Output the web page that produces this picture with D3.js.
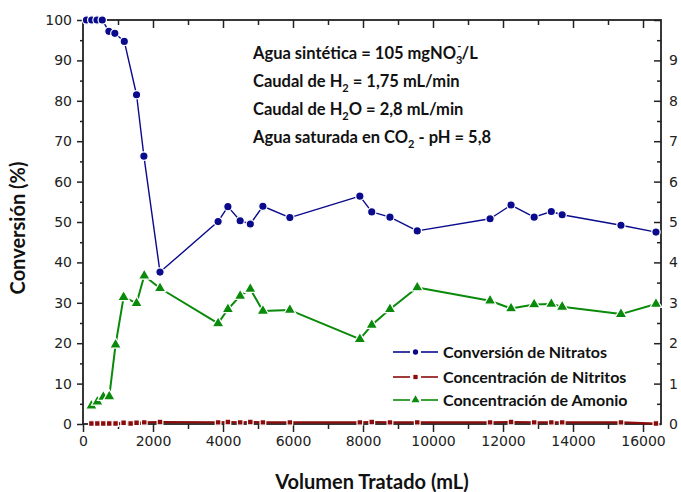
<!DOCTYPE html>
<html>
<head>
<meta charset="utf-8">
<script src="https://cdn.jsdelivr.net/npm/d3@7"></script>
<style>
  body { margin: 0; background: #fff; }
  svg { display: block; }
  .tick text { font-family: "DejaVu Sans", sans-serif; font-size: 14px; fill: #222; }
  .bold { font-family: Lato, "Open Sans", sans-serif; font-weight: bold; fill: #111; }
</style>
</head>
<body>
<svg id="chart" width="681" height="492"></svg>
<script>
// volumen tratado (mL) y valores
var volNitrato = [100, 250, 400, 550, 740, 910, 1180, 1530, 1740, 2200, 3860, 4140, 4490, 4780, 5140, 5910, 7910, 8250, 8770, 9550, 11630, 12230, 12890, 13380, 13690, 15370, 16370];
var conversion = [100, 100, 100, 100, 97.2, 96.7, 94.7, 81.5, 66.3, 37.6, 50.1, 53.8, 50.3, 49.5, 53.9, 51.1, 56.4, 52.5, 51.2, 47.8, 50.8, 54.2, 51.2, 52.6, 51.8, 49.2, 47.5];

var volNitrito = [240, 410, 580, 750, 930, 1160, 1360, 1530, 1750, 2200, 3860, 4140, 4490, 4780, 5140, 5910, 7910, 8250, 8770, 9550, 11630, 12230, 12890, 13380, 13690, 15370, 16370];
var nitrito = [0.01, 0.01, 0.01, 0.01, 0.01, 0.03, 0.01, 0.03, 0.04, 0.05, 0.04, 0.05, 0.04, 0.05, 0.04, 0.04, 0.04, 0.05, 0.04, 0.04, 0.04, 0.05, 0.04, 0.04, 0.04, 0.04, 0.01];

var volAmonio = [240, 410, 580, 750, 930, 1160, 1530, 1750, 2200, 3860, 4140, 4490, 4780, 5140, 5910, 7910, 8250, 8770, 9550, 11630, 12230, 12890, 13380, 13690, 15370, 16370];
var amonio = [0.45, 0.55, 0.67, 0.68, 1.96, 3.14, 2.99, 3.67, 3.36, 2.49, 2.84, 3.17, 3.34, 2.80, 2.82, 2.10, 2.45, 2.84, 3.38, 3.05, 2.86, 2.96, 2.97, 2.90, 2.72, 2.97];

var xTicks = [0, 2000, 4000, 6000, 8000, 10000, 12000, 14000, 16000];
var yLeftTicks = [0, 10, 20, 30, 40, 50, 60, 70, 80, 90, 100];
var yRightTicks = [0, 1, 2, 3, 4, 5, 6, 7, 8, 9];

var svg = d3.select("#chart");
var pLeft = 83, pRight = 661, pTop = 20, pBottom = 424;

var x = d3.scaleLinear().domain([0, 16514]).range([pLeft, pRight]);
var yL = d3.scaleLinear().domain([0, 100]).range([pBottom, pTop]);
var yR = d3.scaleLinear().domain([0, 10]).range([pBottom, pTop]);

function minors(a, b, step) { return d3.range(a, b + step / 2, step); }

// ejes: marcas menores primero, despues las mayores con etiqueta
function drawAxis(axisFn, scale, majors, minorVals, pos, labels, majorLen, minorLen) {
  svg.append("g").attr("transform", pos)
    .call(axisFn(scale).tickValues(minorVals).tickSize(minorLen).tickFormat(""))
    .call(function(g){ g.select(".domain").remove(); g.selectAll("line").attr("stroke", "#222").attr("stroke-width", 1.5); });
  var g = svg.append("g").attr("transform", pos)
    .call(axisFn(scale).tickValues(majors).tickSize(majorLen).tickPadding(4).tickFormat(labels ? d3.format("d") : ""));
  g.select(".domain").remove();
  g.selectAll("line").attr("stroke", "#222").attr("stroke-width", 1.5);
  return g;
}

drawAxis(d3.axisBottom, x, xTicks, minors(1000, 16000, 2000), "translate(0," + pBottom + ")", true, 8, 5);
drawAxis(d3.axisBottom, x, xTicks.slice(1), minors(1000, 16000, 2000), "translate(0," + pTop + ")", false, 8, 5);
drawAxis(d3.axisLeft, yL, yLeftTicks, minors(5, 95, 10), "translate(" + pLeft + ",0)", true, 6, 3)
  .selectAll("text").attr("dx", "-1");
drawAxis(d3.axisLeft, yR, yRightTicks.concat([10]), minors(0.5, 9.5, 1), "translate(" + pRight + ",0)", false, 7, 4);
// etiquetas del eje derecho
svg.append("g").selectAll("text").data(yRightTicks).enter().append("text")
  .attr("x", pRight + 8).attr("y", function(d){ return yR(d); })
  .attr("dy", "0.35em")
  .style("font-family", "DejaVu Sans, sans-serif").style("font-size", "14px").style("fill", "#222")
  .text(function(d){ return d; });

svg.append("rect").attr("x", pLeft).attr("y", pTop).attr("width", pRight - pLeft).attr("height", pBottom - pTop)
  .attr("fill", "none").attr("stroke", "#222").attr("stroke-width", 1.8);

// series
var series = [
  { name: "Conversión de Nitratos", vol: volNitrato, val: conversion, y: yL, color: "#0a0a8c", shape: d3.symbolCircle, size: 55, legSize: 22, w: 1.4 },
  { name: "Concentración de Nitritos", vol: volNitrito, val: nitrito, y: yR, color: "#8b0a0a", shape: d3.symbolSquare, size: 32, legSize: 18, w: 2.2 },
  { name: "Concentración de Amonio", vol: volAmonio, val: amonio, y: yR, color: "#0a8a0a", shape: d3.symbolTriangle, size: 60, legSize: 28, w: 2 }
];

var plot = svg.append("g");
series.forEach(function(s) {
  var pts = s.vol.map(function(v, i){ return [x(v), s.y(s.val[i])]; });
  plot.append("path").attr("d", d3.line()(pts))
    .attr("fill", "none").attr("stroke", s.color).attr("stroke-width", s.w).attr("stroke-linejoin", "round");
  plot.selectAll(null).data(pts).enter().append("path")
    .attr("transform", function(p){ return "translate(" + p[0] + "," + p[1] + ")"; })
    .attr("d", d3.symbol().type(s.shape).size(s.size))
    .attr("fill", s.color).attr("stroke", "#fff").attr("stroke-width", 1.2);
});

// leyenda
var legY = [352, 377, 400];
series.forEach(function(s, i) {
  var g = svg.append("g").attr("transform", "translate(0," + legY[i] + ")");
  g.append("line").attr("x1", 393).attr("x2", 410).attr("stroke", s.color).attr("stroke-width", 1.6);
  g.append("line").attr("x1", 421).attr("x2", 438).attr("stroke", s.color).attr("stroke-width", 1.6);
  g.append("path").attr("transform", "translate(415.5,0)").attr("d", d3.symbol().type(s.shape).size(s.legSize)).attr("fill", s.color);
  g.append("text").attr("class", "bold").attr("x", 443).attr("dy", "0.35em").style("font-size", "16px").text(s.name);
});

// anotaciones
var notes = svg.append("g").attr("class", "bold").style("font-size", "16.5px");
var t1 = notes.append("text").attr("x", 253).attr("y", 59);
t1.append("tspan").text("Agua sintética = 105 mgNO");
t1.append("tspan").attr("dy", 5).style("font-size", "11px").text("3");
t1.append("tspan").attr("dx", -5).attr("dy", -14).style("font-size", "11px").text("-");
t1.append("tspan").attr("dy", 9).text("/L");

var t2 = notes.append("text").attr("x", 253).attr("y", 87);
t2.append("tspan").text("Caudal de H");
t2.append("tspan").attr("dy", 5).style("font-size", "11px").text("2");
t2.append("tspan").attr("dy", -5).text(" = 1,75 mL/min");

var t3 = notes.append("text").attr("x", 253).attr("y", 115);
t3.append("tspan").text("Caudal de H");
t3.append("tspan").attr("dy", 5).style("font-size", "11px").text("2");
t3.append("tspan").attr("dy", -5).text("O = 2,8 mL/min");

var t4 = notes.append("text").attr("x", 253).attr("y", 143);
t4.append("tspan").text("Agua saturada en CO");
t4.append("tspan").attr("dy", 5).style("font-size", "11px").text("2");
t4.append("tspan").attr("dy", -5).text(" - pH = 5,8");

// titulos de ejes
svg.append("text").attr("class", "bold").attr("x", 372).attr("y", 489).attr("text-anchor", "middle")
  .style("font-size", "20px").text("Volumen Tratado (mL)");
svg.append("text").attr("class", "bold").attr("transform", "translate(25,228) rotate(-90)").attr("text-anchor", "middle")
  .style("font-size", "20px").text("Conversión (%)");
</script>
</body>
</html>
